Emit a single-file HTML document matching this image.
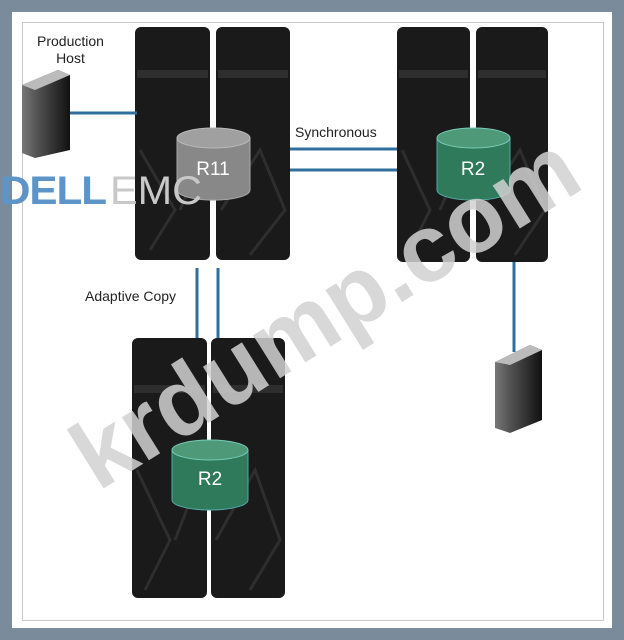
<!DOCTYPE html>
<html><head><style>
body{margin:0;width:624px;height:640px;background:#7a8b9b;position:relative;overflow:hidden;font-family:"Liberation Sans",sans-serif}
.w{position:absolute;left:12px;top:12px;width:600px;height:616px;background:#fff}
.in{position:absolute;left:22px;top:22px;width:580px;height:597px;border:1px solid #c8c8c8}
.t{position:absolute;font-size:14px;color:#222}
</style></head><body>
<div class="w"></div><div class="in"></div>
<svg width="624" height="640" style="position:absolute;left:0;top:0">
<defs>
<linearGradient id="hs" x1="0" x2="1"><stop offset="0" stop-color="#777"/><stop offset="0.3" stop-color="#555"/><stop offset="1" stop-color="#111"/></linearGradient>
</defs>
<g fill="#1a1a1a">
<rect x="135" y="27" width="75" height="233" rx="6"/><rect x="216" y="27" width="74" height="233" rx="6"/>
<rect x="397" y="27" width="73" height="235" rx="6"/><rect x="476" y="27" width="72" height="235" rx="6"/>
<rect x="132" y="338" width="75" height="260" rx="6"/><rect x="211" y="338" width="74" height="260" rx="6"/>
</g>
<g fill="#333" opacity="0.8">
<rect x="137" y="70" width="71" height="8"/><rect x="218" y="70" width="70" height="8"/>
<rect x="399" y="70" width="69" height="8"/><rect x="478" y="70" width="68" height="8"/>
<rect x="134" y="385" width="71" height="8"/><rect x="213" y="385" width="70" height="8"/>
</g>
<g stroke="#2e2e2e" stroke-width="3" fill="none">
<path d="M140 150 L175 210 L150 250 M205 150 L180 210 M221 210 L260 150 L285 210 L250 255"/>
<path d="M402 150 L430 210 L410 250 M465 150 L440 210 M481 210 L520 150 L545 210 L515 255"/>
<path d="M137 470 L170 540 L145 590 M202 470 L175 540 M216 540 L255 470 L280 540 L250 590"/>
</g>
<g stroke="#2f6f9f" stroke-width="3">
<line x1="70" y1="113" x2="137" y2="113"/>
<line x1="290" y1="149" x2="397" y2="149"/><line x1="290" y1="170" x2="397" y2="170"/>
<line x1="197" y1="268" x2="197" y2="338"/><line x1="218" y1="268" x2="218" y2="338"/>
<line x1="514" y1="262" x2="514" y2="352"/>
</g>
<g>
<path d="M177 138 V190 A36 10 0 0 0 250 190 V138" fill="#888" stroke="#aaa"/><ellipse cx="213.5" cy="138" rx="36.5" ry="10" fill="#a0a0a0" stroke="#bbb"/>
<path d="M437 138 V190 A36 10 0 0 0 510 190 V138" fill="#2f7a5a" stroke="#5aa"/><ellipse cx="473.5" cy="138" rx="36.5" ry="10" fill="#4e9a78" stroke="#7cb"/>
<path d="M172 450 V500 A38 10 0 0 0 248 500 V450" fill="#2f7a5a" stroke="#5aa"/><ellipse cx="210" cy="450" rx="38" ry="10" fill="#4e9a78" stroke="#7cb"/>
</g>
<g font-family="Liberation Sans" font-size="19" fill="#fff" text-anchor="middle">
<text x="213" y="175">R11</text><text x="473" y="175">R2</text><text x="210" y="485">R2</text>
</g>
<path d="M22 85 L58 70 L70 75 L70 150 L35 158 L22 153 Z" fill="url(#hs)"/>
<path d="M22 85 L58 70 L70 75 L35 90 Z" fill="#bbb"/>
<path d="M495 362 L530 345 L542 350 L542 420 L510 433 L495 428 Z" fill="url(#hs)"/>
<path d="M495 362 L530 345 L542 350 L510 365 Z" fill="#bbb"/>
<text x="0" y="204" font-family="Liberation Sans" font-weight="bold" font-size="40" fill="#5d95c8" letter-spacing="-1" textLength="106" lengthAdjust="spacingAndGlyphs">DELL</text>
<text x="110" y="204" font-family="Liberation Sans" font-size="40" fill="#c8c8c8" textLength="92" lengthAdjust="spacingAndGlyphs">EMC</text>
<text x="0" y="0" transform="translate(98,492) rotate(-32)" font-family="Liberation Sans" font-weight="bold" font-size="96" fill="#d2d2d2" opacity="0.85">krdump.com</text>
</svg>
<div class="t" style="left:37px;top:33px;text-align:center;line-height:17px">Production<br>Host</div>
<div class="t" style="left:295px;top:124px">Synchronous</div>
<div class="t" style="left:85px;top:288px">Adaptive Copy</div>
</body></html>
